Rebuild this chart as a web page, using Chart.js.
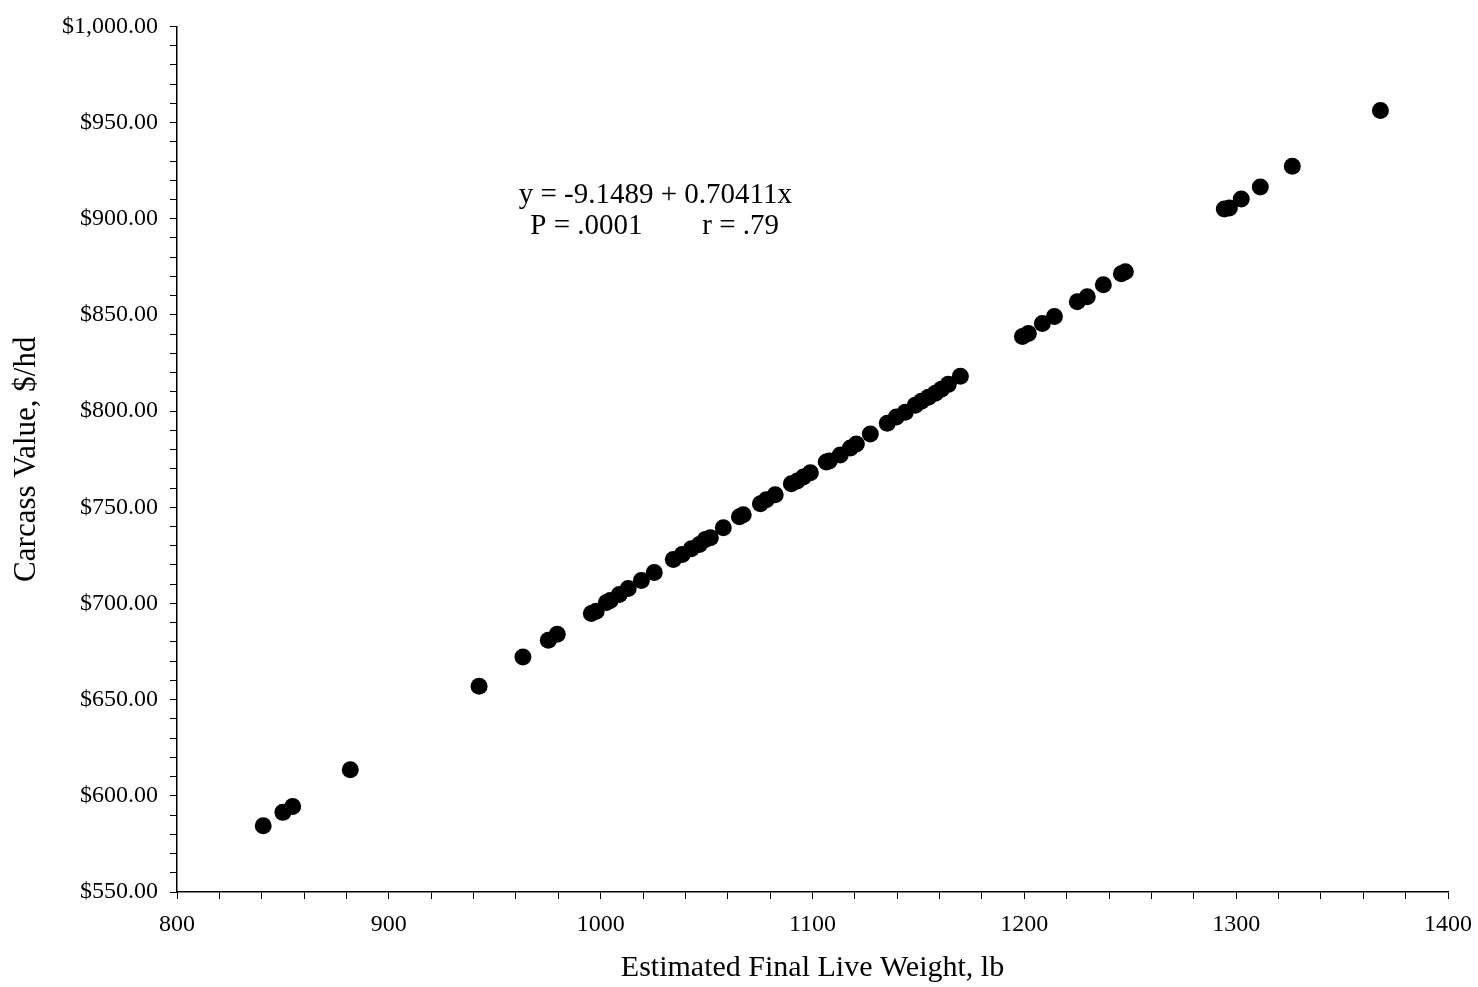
<!DOCTYPE html>
<html>
<head>
<meta charset="utf-8">
<title>Carcass Value vs Final Live Weight</title>
<script src="https://cdn.jsdelivr.net/npm/chart.js@4/dist/chart.umd.min.js"></script>
<style>
  html, body { margin: 0; padding: 0; background: #fff; }
  #wrap { width: 1478px; height: 987px; }
</style>
</head>
<body>
<div id="wrap"><canvas id="weightChart"></canvas></div>
<script>
const fontFamily = "'Liberation Serif', 'Times New Roman', serif";
const inkColor = "#000";

// Estimated final live weight, lb
const liveWeight = [
  840.7, 850.0, 854.6, 881.8, 942.6, 963.3, 975.3, 979.5, 995.6, 997.9,
  1002.7, 1004.5, 1008.8, 1013.0, 1019.2, 1025.3, 1034.3, 1038.5, 1042.8, 1046.6,
  1049.4, 1051.8, 1057.9, 1065.5, 1067.3, 1075.4, 1078.2, 1082.4, 1090.0, 1092.8,
  1095.7, 1099.0, 1106.5, 1107.9, 1113.1, 1117.9, 1120.7, 1127.3, 1135.3, 1139.6,
  1143.8, 1148.5, 1151.4, 1154.7, 1158.0, 1160.8, 1164.1, 1169.8, 1199.1, 1201.9,
  1208.5, 1214.2, 1225.0, 1229.7, 1237.3, 1245.8, 1247.7, 1294.4, 1296.8, 1302.4,
  1311.4, 1326.5, 1368.1
];

// Carcass value, $/hd
const carcassValue = [
  584.5, 591.4, 594.5, 613.5, 657.0, 672.2, 680.9, 684.0, 694.8, 695.9,
  700.5, 701.6, 704.7, 707.8, 711.9, 716.1, 722.8, 725.4, 728.5, 730.6,
  733.2, 734.2, 739.4, 745.1, 746.1, 751.8, 753.9, 756.5, 762.2, 763.7,
  765.8, 767.9, 773.6, 774.1, 777.2, 780.8, 782.9, 788.1, 793.7, 796.9,
  799.4, 803.1, 805.1, 807.2, 809.3, 811.4, 813.9, 818.1, 838.8, 840.4,
  845.5, 849.2, 856.9, 859.5, 865.7, 871.4, 872.5, 905.1, 905.6, 910.3,
  916.5, 927.3, 956.3
];

// Regression statistics printed in the plot
const equationText = "y = -9.1489 + 0.70411x";
const pValueText = "P = .0001";
const rValueText = "r = .79";
const statsAnchor = { x: 1025.8, y: 912.3 };

const points = liveWeight.map((w, i) => ({ x: w, y: carcassValue[i] }));

const dollarFmt = new Intl.NumberFormat("en-US", {
  minimumFractionDigits: 2,
  maximumFractionDigits: 2,
});

// Draws the regression equation and statistics near the upper left
const statsLabel = {
  id: "statsLabel",
  afterDraw(chart) {
    const { ctx, scales } = chart;
    const cx = scales.x.getPixelForValue(statsAnchor.x);
    const cy = scales.y.getPixelForValue(statsAnchor.y);
    ctx.save();
    ctx.fillStyle = inkColor;
    ctx.font = "29px " + fontFamily;
    ctx.textBaseline = "middle";
    ctx.textAlign = "center";
    ctx.fillText(equationText, cx, cy);
    ctx.textAlign = "left";
    ctx.fillText(pValueText, cx - 125, cy + 31);
    ctx.fillText(rValueText, cx + 47, cy + 31);
    ctx.restore();
  },
};

new Chart(document.getElementById("weightChart"), {
  type: "scatter",
  data: {
    datasets: [
      {
        data: points,
        backgroundColor: inkColor,
        borderColor: inkColor,
        pointRadius: 8.5,
        pointHoverRadius: 8.5,
        borderWidth: 0,
      },
    ],
  },
  options: {
    responsive: true,
    maintainAspectRatio: false,
    animation: false,
    layout: { padding: { left: 0, right: 30, top: 22, bottom: 0 } },
    plugins: {
      legend: { display: false },
      tooltip: { enabled: false },
    },
    scales: {
      x: {
        type: "linear",
        min: 800,
        max: 1400,
        afterFit: (scale) => {
          scale.height = 95;
          // let the layout padding alone decide the right edge
          scale.paddingRight = 0;
          scale.paddingLeft = 0;
        },
        border: { display: true, color: inkColor, width: 1.5 },
        grid: {
          drawOnChartArea: false,
          drawTicks: true,
          tickLength: 7,
          color: inkColor,
        },
        ticks: {
          stepSize: 20,
          autoSkip: false,
          maxRotation: 0,
          padding: 11,
          color: inkColor,
          font: { family: fontFamily, size: 24 },
          callback: (v) => (v % 100 === 0 ? String(v) : ""),
        },
        title: {
          display: true,
          text: "Estimated Final Live Weight, lb",
          color: inkColor,
          font: { family: fontFamily, size: 30 },
          padding: { top: 0, bottom: 1 },
        },
      },
      y: {
        type: "linear",
        min: 550,
        max: 1000,
        afterFit: (scale) => { scale.width = 177; },
        border: { display: true, color: inkColor, width: 1.5 },
        grid: {
          drawOnChartArea: false,
          drawTicks: true,
          tickLength: 7,
          color: inkColor,
        },
        ticks: {
          stepSize: 10,
          autoSkip: false,
          padding: 12,
          color: inkColor,
          font: { family: fontFamily, size: 24 },
          callback: (v) => (v % 50 === 0 ? "$" + dollarFmt.format(v) : ""),
        },
        title: {
          display: true,
          text: "Carcass Value, $/hd",
          color: inkColor,
          font: { family: fontFamily, size: 31 },
          padding: { top: 8, bottom: 0 },
        },
      },
    },
  },
  plugins: [statsLabel],
});
</script>
</body>
</html>
